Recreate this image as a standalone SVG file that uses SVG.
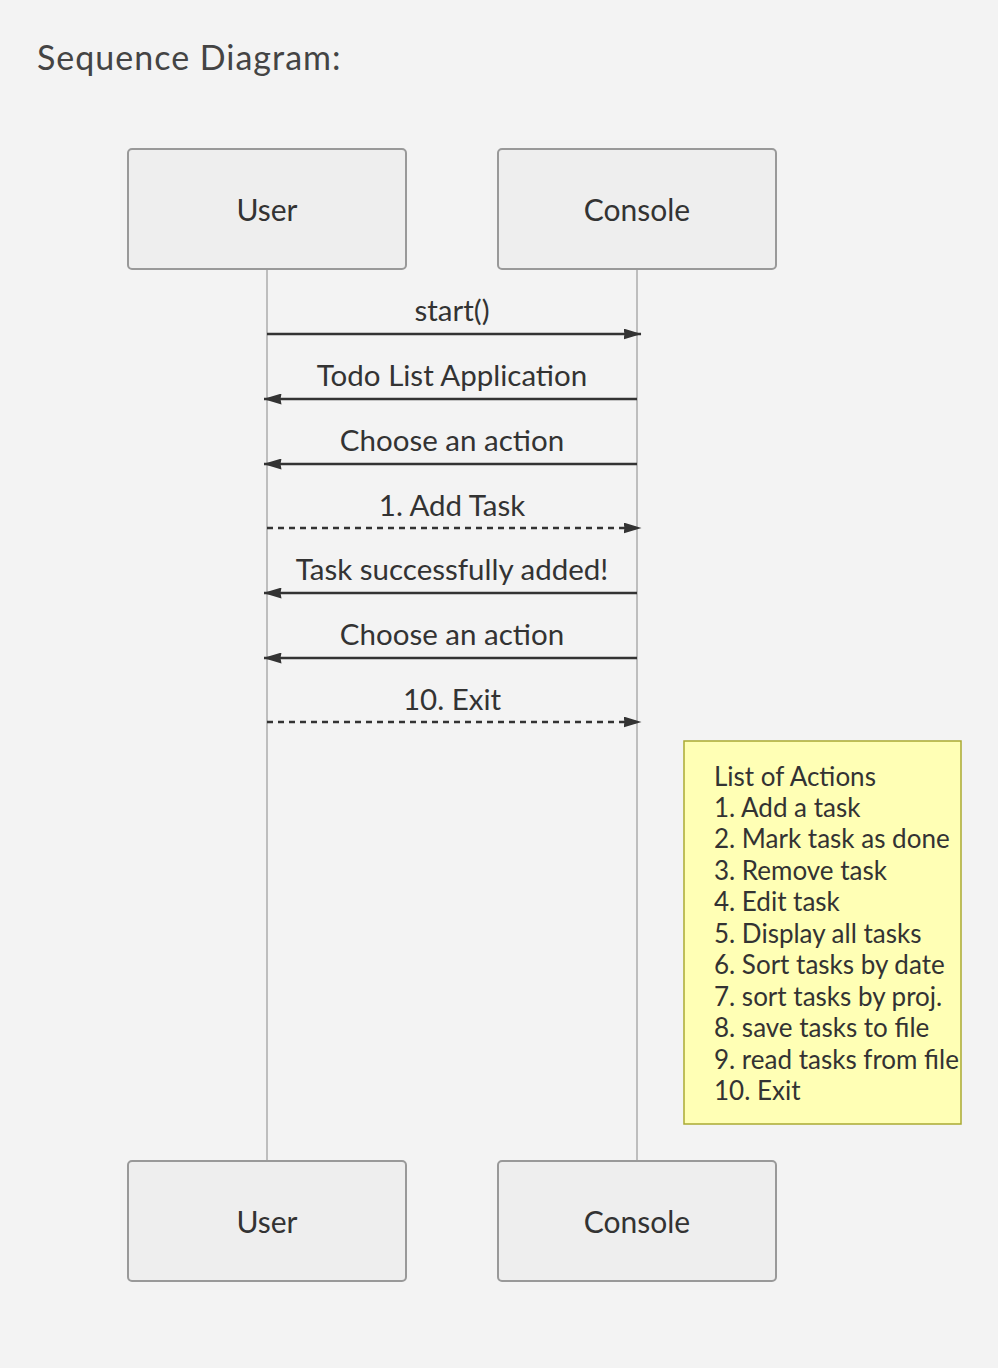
<svg xmlns="http://www.w3.org/2000/svg" width="998" height="1368" viewBox="0 0 998 1368">
<style>
text{font-family:Lato,"Open Sans","Liberation Sans",sans-serif;fill:#333}
.actor{fill:#eeeeee;stroke:#999999;stroke-width:2}
.alabel{font-size:30px;text-anchor:middle}
.life{stroke:#999999;stroke-width:1.2}
.msg{stroke:#333333;stroke-width:2.4;fill:none}
.dash{stroke-dasharray:6,5}
.mlabel{font-size:29.5px;text-anchor:middle}
.note{fill:#ffffb5;stroke:#aaaa33;stroke-width:1.5}
.ntext{font-size:26px}
</style>
<defs>
<marker id="arrow" viewBox="0 0 18 11" refX="17.5" refY="5.5" markerWidth="18" markerHeight="11" markerUnits="userSpaceOnUse" orient="auto">
<path d="M0,0 L18,5.5 L0,11 L1,5.5 z" fill="#333333"/>
</marker>
</defs>
<rect width="998" height="1368" fill="#f3f3f3"/>
<text x="37" y="70" style="font-size:34px;letter-spacing:1px;fill:#444">Sequence Diagram:</text>
<g id="lifelines">
<line class="life" x1="267" y1="269" x2="267" y2="1161"/>
<line class="life" x1="637" y1="269" x2="637" y2="1161"/>
</g>
<g id="user-top"><rect class="actor" x="128" y="149" width="278" height="120" rx="4"/><text class="alabel" x="267" y="221">User</text></g>
<g id="console-top"><rect class="actor" x="498" y="149" width="278" height="120" rx="4"/><text class="alabel" x="637" y="221">Console</text></g>
<g id="user-bottom"><rect class="actor" x="128" y="1161" width="278" height="120" rx="4"/><text class="alabel" x="267" y="1233">User</text></g>
<g id="console-bottom"><rect class="actor" x="498" y="1161" width="278" height="120" rx="4"/><text class="alabel" x="637" y="1233">Console</text></g>
<g id="connectors">
<line class="msg" x1="267" y1="334" x2="641" y2="334" marker-end="url(#arrow)"/>
<text class="mlabel" x="452" y="321">start()</text>
<line class="msg" x1="637" y1="399" x2="264" y2="399" marker-end="url(#arrow)"/>
<text class="mlabel" x="452" y="386">Todo List Application</text>
<line class="msg" x1="637" y1="464" x2="264" y2="464" marker-end="url(#arrow)"/>
<text class="mlabel" x="452" y="451">Choose an action</text>
<line class="msg dash" x1="267" y1="528" x2="641" y2="528" marker-end="url(#arrow)"/>
<text class="mlabel" x="452" y="516">1. Add Task</text>
<line class="msg" x1="637" y1="593" x2="264" y2="593" marker-end="url(#arrow)"/>
<text class="mlabel" x="452" y="580">Task successfully added!</text>
<line class="msg" x1="637" y1="658" x2="264" y2="658" marker-end="url(#arrow)"/>
<text class="mlabel" x="452" y="645">Choose an action</text>
<line class="msg dash" x1="267" y1="722" x2="641" y2="722" marker-end="url(#arrow)"/>
<text class="mlabel" x="452" y="710">10. Exit</text>
</g>
<g id="note">
<rect class="note" x="684" y="741" width="277" height="383"/>
<text class="ntext" x="714" y="786">List of Actions</text>
<text class="ntext" x="714" y="817">1. Add a task</text>
<text class="ntext" x="714" y="848">2. Mark task as done</text>
<text class="ntext" x="714" y="880">3. Remove task</text>
<text class="ntext" x="714" y="911">4. Edit task</text>
<text class="ntext" x="714" y="943">5. Display all tasks</text>
<text class="ntext" x="714" y="974">6. Sort tasks by date</text>
<text class="ntext" x="714" y="1006">7. sort tasks by proj.</text>
<text class="ntext" x="714" y="1037">8. save tasks to file</text>
<text class="ntext" x="714" y="1069">9. read tasks from file</text>
<text class="ntext" x="714" y="1100">10. Exit</text>
</g>
</svg>
